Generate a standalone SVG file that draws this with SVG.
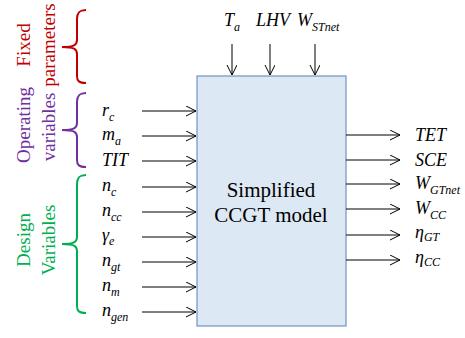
<svg xmlns="http://www.w3.org/2000/svg" width="465" height="338" viewBox="0 0 465 338" font-family="'Times New Roman', 'Liberation Serif', serif">
<defs>
<marker id="ah" markerWidth="12" markerHeight="12" refX="10" refY="5" orient="auto" markerUnits="userSpaceOnUse">
<path d="M0,0 L10,5 L0,10" fill="none" stroke="#000" stroke-width="1"/>
</marker>
</defs>
<rect width="465" height="338" fill="#fff"/>

<g id="model">
<rect x="197" y="76" width="149" height="250" fill="#dde8f5" stroke="#7292c0" stroke-width="1.2"/>
<text x="271" y="197" font-size="21" text-anchor="middle" font-family="'Times New Roman', 'Liberation Serif', serif">Simplified</text>
<text x="271" y="222" font-size="21" text-anchor="middle" font-family="'Times New Roman', 'Liberation Serif', serif">CCGT model</text>
</g>

<g id="fixed" font-size="19" text-anchor="middle" fill="#c00000">
<path fill="none" stroke-width="2" stroke="#c00000" d="M86,10 C79,10 77,13 77,19 L77,40 C77,45 74,47 62,47 C74,47 77,49 77,54 L77,76 C77,81 79,83 86,83"/>
<text transform="translate(30,45) rotate(-90)">Fixed</text>
<text transform="translate(55,45) rotate(-90)">parameters</text>
</g>

<g id="operating" font-size="19" text-anchor="middle" fill="#7030a0">
<path fill="none" stroke-width="2" stroke="#7030a0" d="M86,93 C79,93 77,96 77,102 L77,123 C77,128 74,130 62,130 C74,130 77,132 77,137 L77,160 C77,165 79,167 86,167"/>
<text transform="translate(30,125) rotate(-90)">Operating</text>
<text transform="translate(55,127) rotate(-90)">variables</text>
</g>

<g id="design" font-size="19" text-anchor="middle" fill="#00b050">
<path fill="none" stroke-width="2" stroke="#00b050" d="M86,175 C79,175 77,178 77,184 L77,237 C77,242 74,244 62,244 C74,244 77,246 77,251 L77,306 C77,311 79,313 86,313"/>
<text transform="translate(30,240) rotate(-90)">Design</text>
<text transform="translate(55,240) rotate(-90)">Variables</text>
</g>

<g id="inputs" font-size="18" font-style="italic">
<text x="102" y="116">r<tspan font-size="12" dy="5">c</tspan></text>
<text x="102" y="140">m<tspan font-size="12" dy="5">a</tspan></text>
<text x="102" y="166">TIT</text>
<text x="102" y="191">n<tspan font-size="12" dy="5">c</tspan></text>
<text x="102" y="216">n<tspan font-size="12" dy="5">cc</tspan></text>
<text x="102" y="241">γ<tspan font-size="12" dy="4">e</tspan></text>
<text x="102" y="266">n<tspan font-size="12" dy="5">gt</tspan></text>
<text x="102" y="291">n<tspan font-size="12" dy="5">m</tspan></text>
<text x="102" y="316">n<tspan font-size="12" dy="5">gen</tspan></text>
</g>

<g id="params" font-size="18" font-style="italic">
<text x="224" y="26">T<tspan font-size="12" dy="5">a</tspan></text>
<text x="256" y="26">LHV</text>
<text x="297" y="26">W<tspan font-size="12" dy="5">STnet</tspan></text>
</g>

<g id="outputs" font-size="18" font-style="italic">
<text x="415" y="141">TET</text>
<text x="415" y="166">SCE</text>
<text x="415" y="189">W<tspan font-size="12" dy="5">GTnet</tspan></text>
<text x="415" y="214">W<tspan font-size="12" dy="5">CC</tspan></text>
<text x="415" y="238">η<tspan font-size="12" dy="3">GT</tspan></text>
<text x="415" y="263">η<tspan font-size="12" dy="3">CC</tspan></text>
</g>

<g id="connectors" stroke="#000" stroke-width="1" fill="none" marker-end="url(#ah)">
<line x1="142" y1="111" x2="196" y2="111"/>
<line x1="142" y1="136" x2="196" y2="136"/>
<line x1="142" y1="161" x2="196" y2="161"/>
<line x1="142" y1="187" x2="196" y2="187"/>
<line x1="142" y1="212" x2="196" y2="212"/>
<line x1="142" y1="237" x2="196" y2="237"/>
<line x1="142" y1="262" x2="196" y2="262"/>
<line x1="142" y1="287" x2="196" y2="287"/>
<line x1="142" y1="312" x2="196" y2="312"/>
<line x1="232" y1="44" x2="232" y2="75"/>
<line x1="270" y1="44" x2="270" y2="75"/>
<line x1="315" y1="44" x2="315" y2="75"/>
<line x1="346" y1="135" x2="400" y2="135"/>
<line x1="346" y1="160" x2="400" y2="160"/>
<line x1="346" y1="184" x2="400" y2="184"/>
<line x1="346" y1="209" x2="400" y2="209"/>
<line x1="346" y1="235" x2="400" y2="235"/>
<line x1="346" y1="260" x2="400" y2="260"/>
</g>
</svg>
